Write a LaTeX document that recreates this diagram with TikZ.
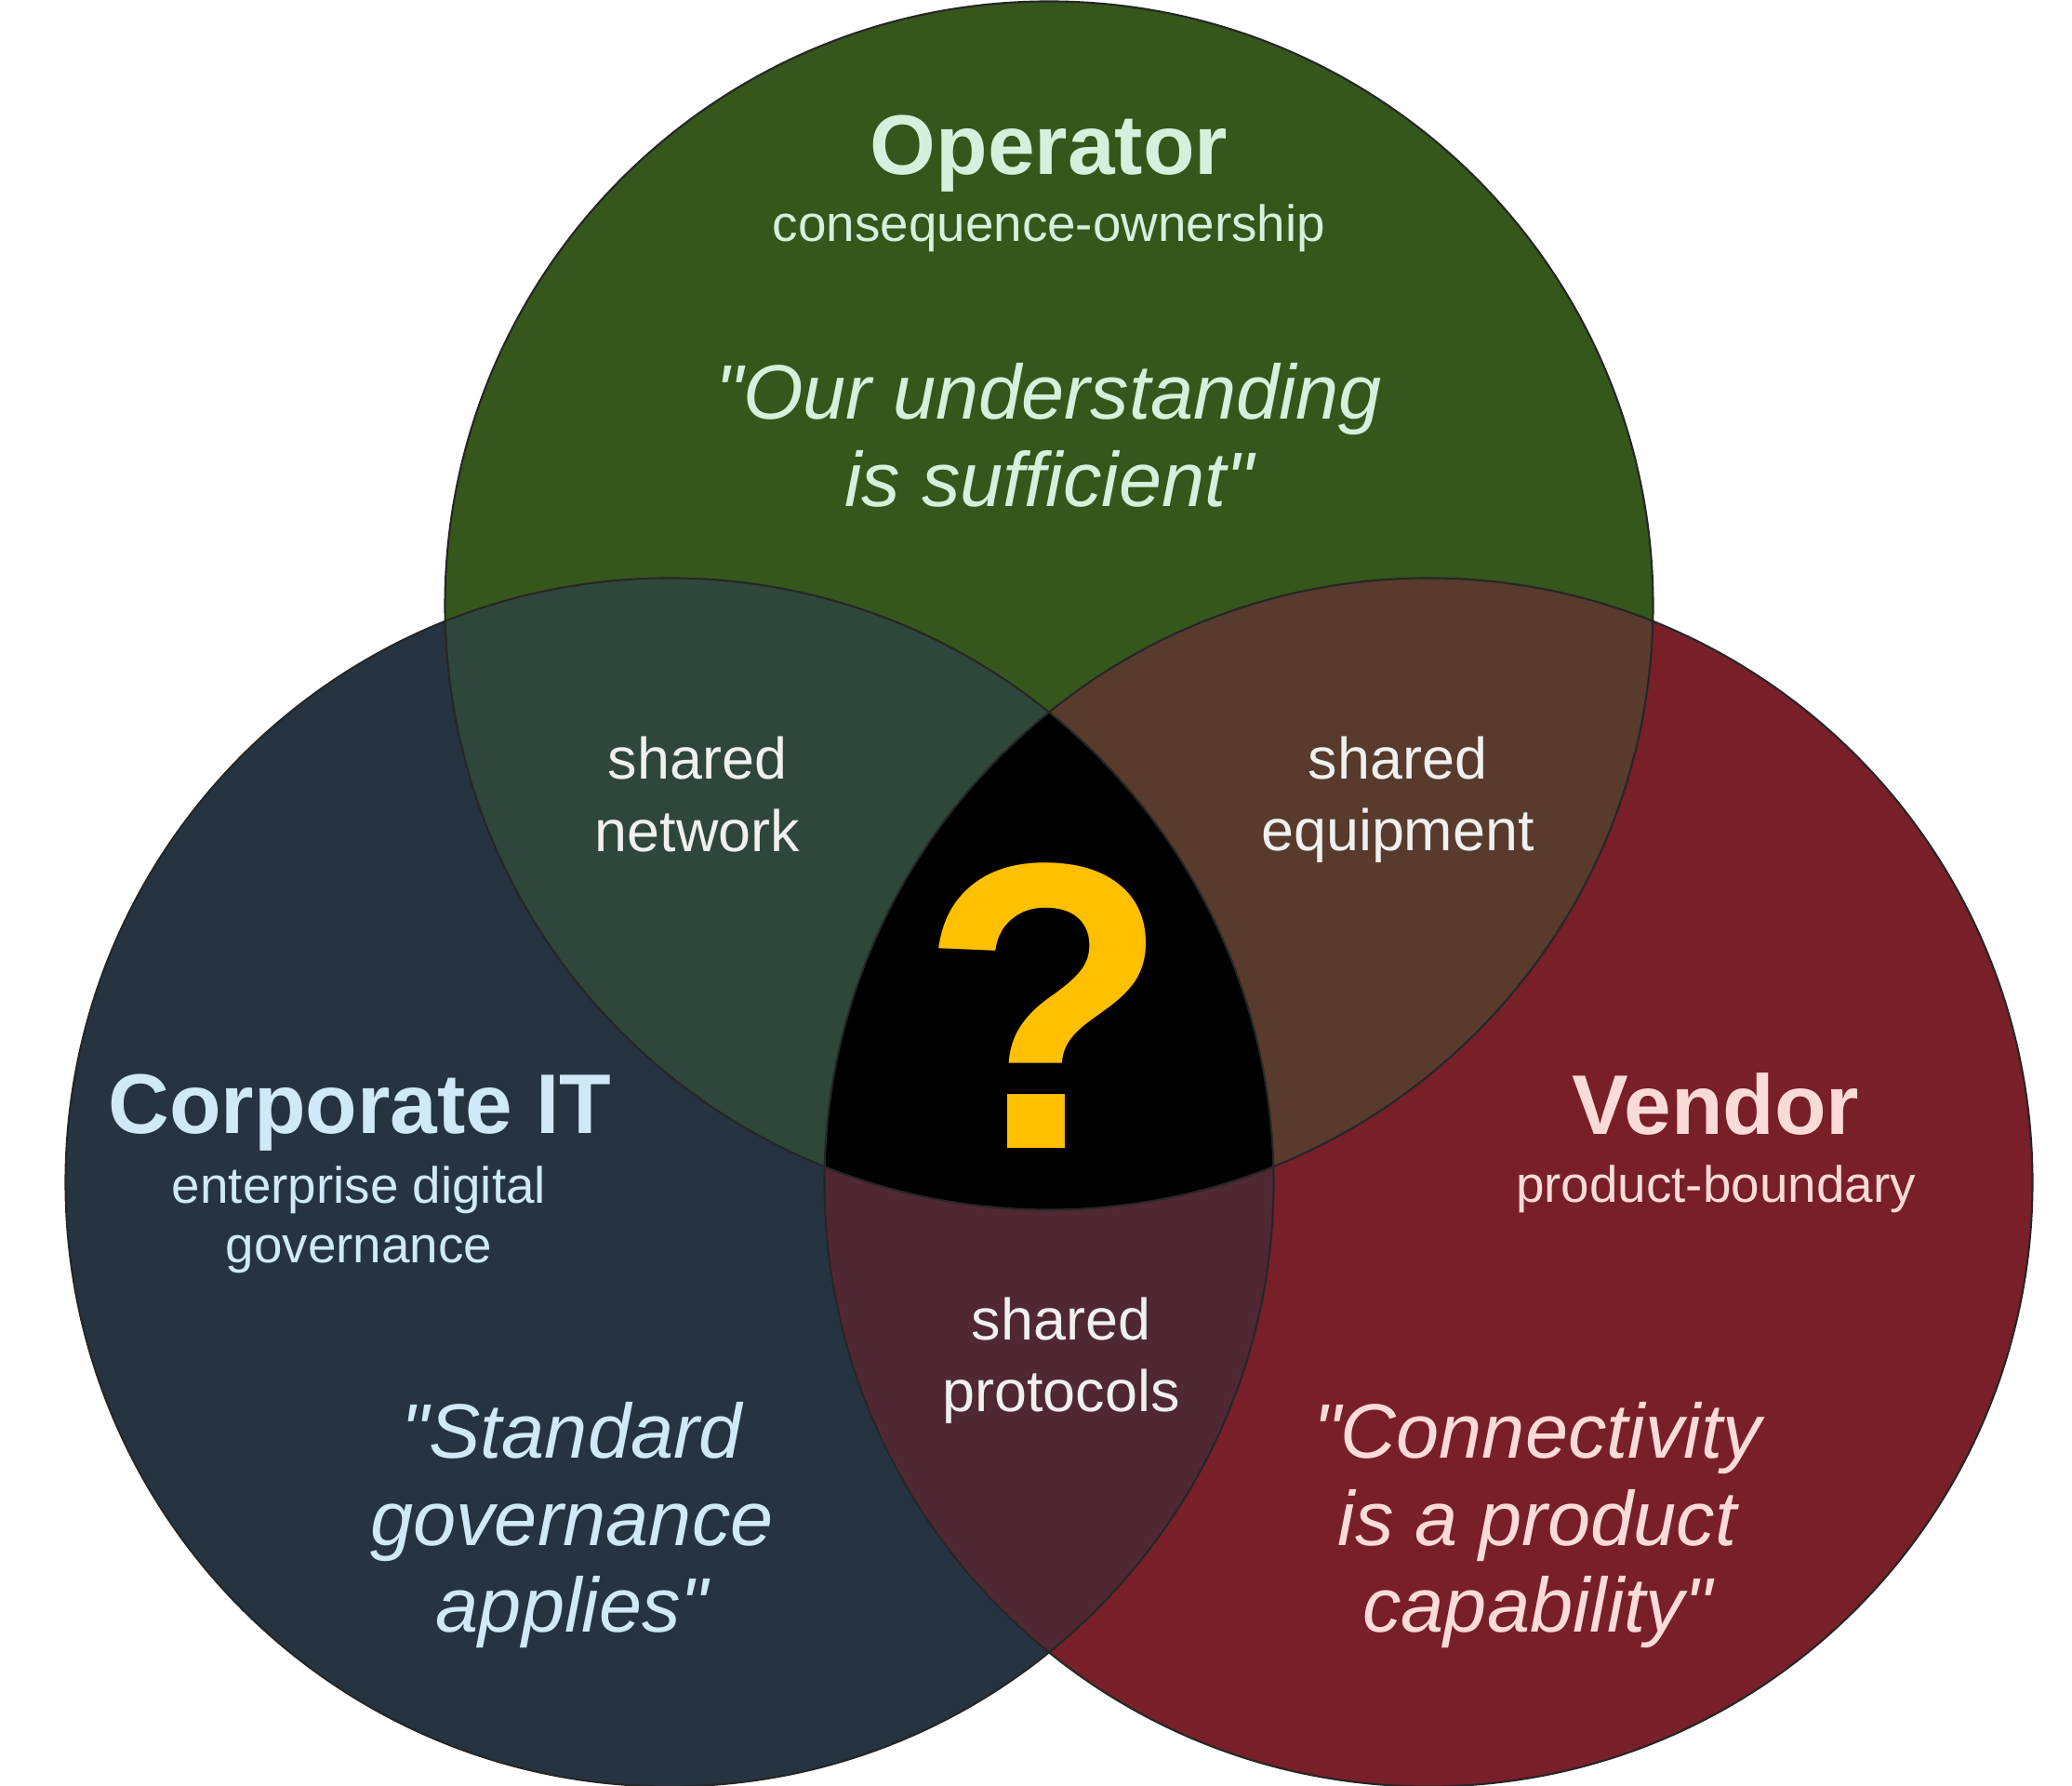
\documentclass[tikz,border=0pt]{standalone}
\usepackage{fontspec}
\setmainfont{Liberation Sans}[Ligatures=TeXOff]
\usepackage{xcolor}
\usetikzlibrary{math}
\definecolor{opgreen}{RGB}{54,87,27}
\definecolor{itblue}{RGB}{38,52,66}
\definecolor{venred}{RGB}{121,31,41}
\definecolor{netgreen}{RGB}{46,71,58}
\definecolor{equipbrown}{RGB}{88,59,44}
\definecolor{protored}{RGB}{80,40,51}
\definecolor{optext}{RGB}{213,240,220}
\definecolor{ittext}{RGB}{208,233,246}
\definecolor{ventext}{RGB}{251,219,216}
\definecolor{sharedtext}{RGB}{240,240,240}
\definecolor{qgold}{RGB}{255,192,0}

\begin{document}
\begin{tikzpicture}[
  outline/.style={draw=black!85, line width=0.6pt},
  title/.style={anchor=base, inner sep=0pt, font=\fontsize{25.9}{31}\selectfont\bfseries},
  subtitle/.style={inner sep=0pt, align=center, font=\fontsize{15.6}{18.2}\selectfont},
  quote/.style={inner sep=0pt, align=center, font=\fontsize{23.6}{26.6}\selectfont\itshape},
  sharedlbl/.style={inner sep=0pt, align=center, text=sharedtext, font=\fontsize{17.9}{22}\selectfont}
]
\tikzmath{
\R=6.495;
}
\useasboundingbox (0,0) rectangle (22.28,19.20);
\coordinate (op) at (11.28,12.69);
\coordinate (it) at (7.20,6.49);
\coordinate (ven) at (15.36,6.49);

% circles
\fill[opgreen] (op) circle (\R);
\fill[itblue] (it) circle (\R);
\fill[venred] (ven) circle (\R);
% overlaps
\begin{scope}
\clip (op) circle (\R);
\fill[netgreen] (it) circle (\R);
\fill[equipbrown] (ven) circle (\R);
\end{scope}
\begin{scope}
\clip (it) circle (\R);
\fill[protored] (ven) circle (\R);
\clip (op) circle (\R);
\fill[black] (ven) circle (\R);
\end{scope}
\draw[outline] (op) circle (\R);
\draw[outline] (it) circle (\R);
\draw[outline] (ven) circle (\R);

\node[title, text=optext] (optitle) at (11.28,17.32) {Operator};
\node[subtitle, anchor=base, text=optext] (opsub) at (11.28,16.60) {consequence-ownership};
\node[quote, text=optext] (opquote) at (11.28,14.52) {"Our understanding\\is sufficient"};

\node[title, text=ittext] (ittitle) at (3.87,7.01) {Corporate IT};
\node[subtitle, text=ittext] (itsub) at (3.86,6.09) {enterprise digital\\governance};
\node[quote, text=ittext] (itquote) at (6.15,2.80) {"Standard\\governance\\applies"};

\node[title, text=ventext] (ventitle) at (18.45,7.00) {Vendor};
\node[subtitle, anchor=base, text=ventext] (vensub) at (18.45,6.27) {product-boundary};
\node[quote, text=ventext] (venquote) at (16.53,2.80) {"Connectivity\\is a product\\capability"};

\node[sharedlbl] (network) at (7.50,10.66) {shared\\network};
\node[sharedlbl] (equipment) at (15.03,10.60) {shared\\equipment};
\node[sharedlbl] (protocols) at (11.41,4.57) {shared\\protocols};

\node[anchor=base, inner sep=0pt, text=qgold, font=\fontsize{125}{130}\selectfont\bfseries] (unknown) at (11.24,6.85) {?};
\end{tikzpicture}
\end{document}
